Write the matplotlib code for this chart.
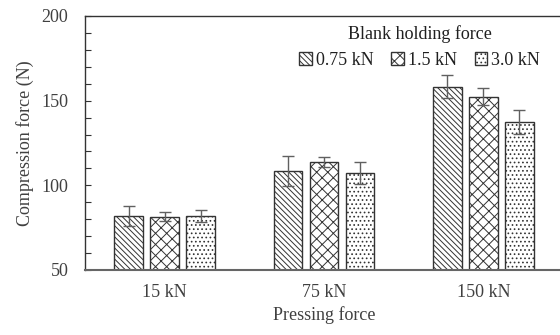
import numpy as np
import matplotlib

matplotlib.use("Agg")
import matplotlib.pyplot as plt

groups = ["15 kN", "75 kN", "150 kN"]
series = ["0.75 kN", "1.5 kN", "3.0 kN"]
values = [
    [82.0, 108.6, 158.3],
    [81.5, 113.6, 152.4],
    [81.7, 107.1, 137.2],
]
errors = [
    [6.0, 8.7, 7.0],
    [2.5, 3.0, 5.0],
    [3.5, 6.5, 7.0],
]
hatches = ["\\" * 6, "xxx", "...."]

plt.rcParams["font.family"] = ["Liberation Serif", "DejaVu Serif"]
plt.rcParams["hatch.linewidth"] = 0.7
plt.rcParams["hatch.color"] = "#333333"

text_color = "#404040"

fig = plt.figure(figsize=(5.6, 3.35), dpi=100)
ax = fig.add_axes([85 / 560, 65 / 335, 478 / 560, 254 / 335])

x = np.arange(len(groups))
width = 0.18
step = 0.225
for i, (name, vals, errs, h) in enumerate(zip(series, values, errors, hatches)):
    ax.bar(x + (i - 1) * step, vals, width, label=name, color="white",
           edgecolor="#333333", linewidth=1.0, hatch=h, zorder=2)
    ax.errorbar(x + (i - 1) * step, vals, yerr=errs, fmt="none",
                ecolor="#606060", elinewidth=1.0, capsize=4, capthick=1.0, zorder=3)

ax.set_ylim(50, 200)
ax.set_xlim(-0.5, 2.5)
ax.set_xticks(x)
ax.set_xticklabels(groups)
ax.set_yticks([50, 100, 150, 200])
ax.set_yticks(np.arange(50, 201, 10), minor=True)
ax.tick_params(axis="y", which="both", direction="in", length=4, width=0.8,
               color="#333333", labelsize=13, labelcolor=text_color, pad=12)
ax.tick_params(axis="x", length=0, labelsize=13, labelcolor=text_color, pad=10)

for side in ["left", "top"]:
    ax.spines[side].set_color("#333333")
    ax.spines[side].set_linewidth(1.0)
ax.spines["bottom"].set_color("#666666")
ax.spines["bottom"].set_linewidth(1.5)
ax.spines["right"].set_visible(False)

ax.set_ylabel("Compression force (N)", fontsize=13, color=text_color, labelpad=5)
ax.set_xlabel("Pressing force", fontsize=13, color=text_color, labelpad=4)

leg = ax.legend(title="Blank holding force", ncol=3, loc="upper right",
                bbox_to_anchor=(0.97, 1.0), frameon=False, fontsize=13,
                title_fontsize=13, handlelength=0.7, handleheight=0.7,
                handletextpad=0.2, columnspacing=1.0, borderaxespad=0.1)
for t in leg.get_texts():
    t.set_color("#202020")
leg.get_title().set_color("#202020")

fig.savefig("out.png", dpi=100)
